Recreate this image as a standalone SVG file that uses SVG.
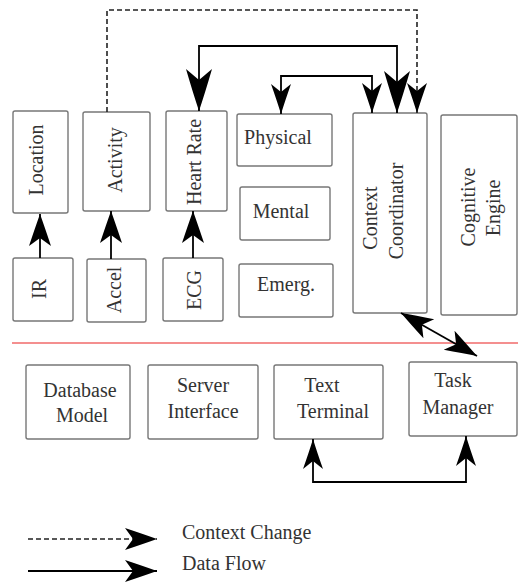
<svg xmlns="http://www.w3.org/2000/svg" width="518" height="583" viewBox="0 0 518 583">
<style>
.box{fill:#fff;stroke:#777;stroke-width:1.4}
.t{font-family:"Liberation Serif","Times New Roman",serif;font-size:20px;fill:#333}
.c{text-anchor:middle}
.ln{fill:none;stroke:#000;stroke-width:1.8}
.dash{fill:none;stroke:#222;stroke-width:1.6;stroke-dasharray:5,3}
</style>
<defs>
<marker id="ah" markerUnits="userSpaceOnUse" viewBox="-32 -12 33 24" markerWidth="33" markerHeight="24" refX="0" refY="0" orient="auto-start-reverse">
<path d="M0,0 Q-14,-5 -32,-11 L-24,0 L-32,11 Q-14,5 0,0 Z" fill="#000"/>
</marker>
<marker id="ahBig" markerUnits="userSpaceOnUse" viewBox="-42 -14 43 28" markerWidth="43" markerHeight="28" refX="0" refY="0" orient="auto-start-reverse">
<path d="M0,0 Q-18,-6 -42,-13 L-31,0 L-42,13 Q-18,6 0,0 Z" fill="#000"/>
</marker>
<marker id="ahMid" markerUnits="userSpaceOnUse" viewBox="-30 -11 31 22" markerWidth="31" markerHeight="22" refX="0" refY="0" orient="auto-start-reverse">
<path d="M0,0 Q-13,-4 -30,-10 L-22,0 L-30,10 Q-13,4 0,0 Z" fill="#000"/>
</marker>
</defs>
<rect width="518" height="583" fill="#fff"/>

<g id="location"><rect class="box" x="13" y="111" width="55" height="102" rx="2"/><text class="t c" transform="translate(43,160) rotate(-90)">Location</text></g>
<g id="activity"><rect class="box" x="83" y="112" width="67" height="99" rx="2"/><text class="t c" transform="translate(122,160) rotate(-90)">Activity</text></g>
<g id="heartrate"><rect class="box" x="166" y="111" width="61" height="100" rx="2"/><text class="t c" transform="translate(201,162) rotate(-90)">Heart Rate</text></g>
<g id="ir"><rect class="box" x="13" y="258" width="60" height="63" rx="2"/><text class="t c" transform="translate(46,289) rotate(-90)">IR</text></g>
<g id="accel"><rect class="box" x="87" y="259" width="59" height="63" rx="2"/><text class="t c" transform="translate(121,290) rotate(-90)">Accel</text></g>
<g id="ecg"><rect class="box" x="163" y="258" width="60" height="63" rx="2"/><text class="t c" transform="translate(201,290) rotate(-90)">ECG</text></g>
<g id="physical"><rect class="box" x="237" y="114" width="95" height="52" rx="2"/><text class="t c" x="278" y="144">Physical</text></g>
<g id="mental"><rect class="box" x="240" y="187" width="90" height="53" rx="2"/><text class="t c" x="281" y="218">Mental</text></g>
<g id="emerg"><rect class="box" x="239" y="264" width="94" height="53" rx="2"/><text class="t c" x="286" y="291">Emerg.</text></g>
<g id="contextcoordinator"><rect class="box" x="353" y="113" width="74" height="200" rx="2"/><text class="t c" transform="translate(377,218) rotate(-90)">Context</text><text class="t c" transform="translate(403,211) rotate(-90)">Coordinator</text></g>
<g id="cognitiveengine"><rect class="box" x="441" y="115" width="76" height="200" rx="2"/><text class="t c" transform="translate(475,207) rotate(-90)">Cognitive</text><text class="t c" transform="translate(500,208) rotate(-90)">Engine</text></g>

<g id="database"><rect class="box" x="26" y="365" width="104" height="74" rx="2"/><text class="t c" x="80" y="397">Database</text><text class="t c" x="82" y="422">Model</text></g>
<g id="server"><rect class="box" x="148" y="365" width="110" height="74" rx="2"/><text class="t c" x="203" y="392">Server</text><text class="t c" x="203" y="418">Interface</text></g>
<g id="textterminal"><rect class="box" x="274" y="365" width="109" height="74" rx="2"/><text class="t c" x="322" y="392">Text</text><text class="t c" x="333" y="418">Terminal</text></g>
<g id="taskmanager"><rect class="box" x="409" y="362" width="108" height="74" rx="2"/><text class="t c" x="453" y="387">Task</text><text class="t c" x="458" y="414">Manager</text></g>

<g id="separator"><line x1="12" y1="343" x2="518" y2="343" stroke="#f06a6a" stroke-width="1.6"/></g>

<g id="connectors">
<path class="dash" d="M107,112 V10 H417 V113" marker-end="url(#ahMid)"/>
<path class="ln" d="M199,111 V46 H397 V113" marker-start="url(#ahBig)" marker-end="url(#ahBig)"/>
<path class="ln" stroke-width="1.5" d="M281,114 V76 H372 V113" marker-start="url(#ahMid)" marker-end="url(#ahMid)"/>
<path class="ln" d="M40,258 V214" marker-end="url(#ah)"/>
<path class="ln" d="M111,259 V211" marker-end="url(#ah)"/>
<path class="ln" d="M193,258 V211" marker-end="url(#ah)"/>
<path class="ln" d="M401,313 L477,356" marker-start="url(#ah)" marker-end="url(#ah)"/>
<path class="ln" stroke-width="2.4" d="M313,439 V482 H466 V436" marker-start="url(#ahMid)" marker-end="url(#ahMid)"/>
</g>

<g id="legend">
<path class="dash" d="M28,539 H157" marker-end="url(#ah)"/>
<path class="ln" d="M28,571 H157" marker-end="url(#ah)"/>
<text class="t" x="182" y="539">Context Change</text>
<text class="t" x="182" y="570">Data Flow</text>
</g>
</svg>
